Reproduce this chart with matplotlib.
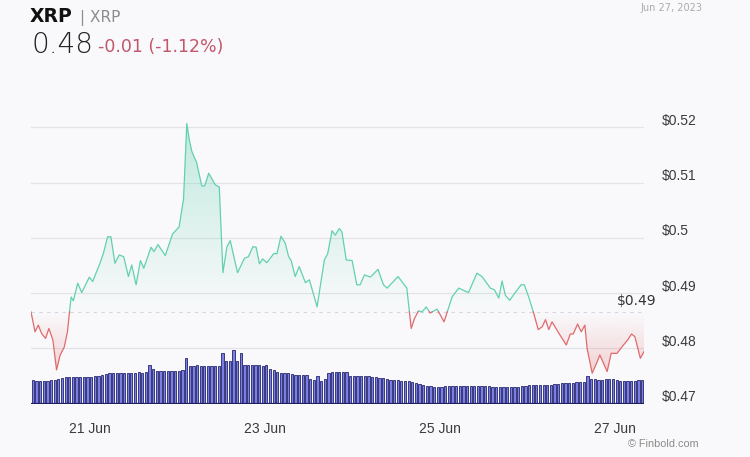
import numpy as np
import matplotlib.pyplot as plt
from matplotlib.path import Path
from matplotlib import transforms


######################################################################
# Data
######################################################################

# hours since 20 Jun 08:00
hours = [
    0, 1.1, 2.0, 2.9, 4.0, 4.9, 6.0, 7.0, 8.0, 9.1,
    10.0, 10.5, 11.0, 11.6, 12.8, 13.9, 16.0, 16.9, 18.9, 19.8,
    21.0, 21.9, 23.0, 24.2, 25.4, 26.7, 27.6, 28.8, 30.0, 30.9,
    32.9, 33.7, 34.8, 36.8, 38.8, 40.6,
    41.8, 42.7, 43.4, 44.1, 45.4, 46.8, 47.6, 48.7, 50.5, 51.6,
    52.6, 53.7, 54.6, 56.6, 58.5, 59.6, 60.8, 61.7, 62.6, 63.5,
    64.6, 66.6, 67.4, 68.5, 69.7, 70.6, 71.3, 72.4, 73.5, 75.2,
    76.3, 78.4, 80.4, 81.3, 82.5, 83.4,
    84.5, 85.2, 86.4, 88.0, 89.3, 90.2, 91.4, 93.0, 95.1, 96.6,
    97.6, 100.6, 103.0, 104.2, 105.1, 106.2, 107.2, 108.3, 109.4, 111.3,
    113.2, 115.4, 117.2, 119.9, 122.2, 123.6, 125.9,
    127.0, 128.2, 129.1, 130.0, 131.2, 132.7, 134.3, 135.2, 136.4, 137.8,
    139.0, 140.1, 141.0, 141.9, 142.8, 144.6, 146.7, 147.8, 148.6, 149.8,
    150.8, 151.8, 152.4, 153.8, 155.0, 155.9, 157.9, 159.0, 160.6, 162.0,
    163.5, 164.6, 165.5, 167.0, 168.0
]

price = [
    0.4866, 0.4830, 0.4842, 0.4827, 0.4818, 0.4836, 0.4815, 0.4761, 0.4788, 0.4802,
    0.4830, 0.4863, 0.4893, 0.4886, 0.4918, 0.4901, 0.4929, 0.4921, 0.4954, 0.4971,
    0.5002, 0.5002, 0.4954, 0.4969, 0.4966, 0.4930, 0.4951, 0.4915, 0.4959, 0.4945,
    0.4983, 0.4975, 0.4988, 0.4968, 0.5007, 0.5020,
    0.5070, 0.5207, 0.5177, 0.5156, 0.5136, 0.5094, 0.5094, 0.5117, 0.5096, 0.5092,
    0.4937, 0.4984, 0.4995, 0.4937, 0.4963, 0.4966, 0.4984, 0.4983, 0.4953, 0.4962,
    0.4955, 0.4972, 0.4971, 0.5003, 0.4990, 0.4966, 0.4959, 0.4930, 0.4948, 0.4919,
    0.4924, 0.4875, 0.4960, 0.4971, 0.5013, 0.5005,
    0.5017, 0.5011, 0.4960, 0.4959, 0.4915, 0.4915, 0.4933, 0.4929, 0.4943, 0.4915,
    0.4909, 0.4930, 0.4909, 0.4836, 0.4854, 0.4868, 0.4866, 0.4875, 0.4864, 0.4871,
    0.4848, 0.4893, 0.4909, 0.4901, 0.4936, 0.4930, 0.4909,
    0.4906, 0.4891, 0.4922, 0.4896, 0.4887, 0.4901, 0.4915, 0.4915, 0.4893, 0.4863,
    0.4834, 0.4839, 0.4852, 0.4834, 0.4848, 0.4828, 0.4806, 0.4826, 0.4826, 0.4844,
    0.4830, 0.4842, 0.4800, 0.4755, 0.4773, 0.4788, 0.4758, 0.4791, 0.4791, 0.4803,
    0.4815, 0.4826, 0.4821, 0.4782, 0.4794
]

# hourly volume (relative units)
volume = [
    23.5, 23, 22.5, 22.5, 23, 23.5, 23.5,
    24.5, 26, 26.5, 27, 27, 26.5,
    27, 27, 27, 27, 27.5, 28, 29,
    29.5, 30.5, 31, 31, 31, 31, 31, 31, 31, 31.5, 31, 31.5,
    39, 35,
    33, 33, 33, 33, 33, 33, 33, 33.5,
    46,
    38, 38, 38.5, 38, 38, 38, 38, 38, 38,
    51, 42.5, 43, 54, 43, 51,
    39, 38.5, 38.5, 38.5, 38.5, 38,
    38.5, 35, 34,
    31.5, 31, 31, 30.5,
    29.5, 29, 29, 29, 29,
    24.5, 23.5, 28, 23, 25,
    31, 31.5, 31.5, 32, 32, 32,
    27.5, 27.5, 27.5, 27.5, 27.5, 27.5,
    27, 26.5, 26, 25.5,
    24.5, 24, 24, 24,
    22.5, 22.5, 22.5, 22,
    20.5, 20, 19,
    17.5, 17.5, 17, 17, 17, 17.5, 17.5, 17.5, 17.5, 17.5,
    18, 17.5, 17.5, 17.5, 17.5, 17.5, 17.5, 17.5,
    17, 17, 17, 16.5, 16.5, 17, 17, 17, 17.5, 17.5,
    18.5, 18.5, 18.5, 18.5, 18.5, 19, 19, 19.5,
    20, 20.5, 20.5, 21, 21, 21.5, 21.5, 22,
    28,
    24.5, 24.5, 24, 24, 24.5, 24.5,
    25,
    23.5, 23, 23, 23, 23, 23, 23.5, 23.5
]

ytick_values = [0.47, 0.48, 0.49, 0.50, 0.51, 0.52]
ytick_labels = ['$0.47', '$0.48', '$0.49', '$0.5', '$0.51', '$0.52']
xtick_hours = [16, 64, 112, 160]
xtick_labels = ['21 Jun', '23 Jun', '25 Jun', '27 Jun']


######################################################################
# Style
######################################################################

bg = '#f9f9fb'
green = '#62d0b0'
red = '#e06a6c'
axis_font = 'Liberation Sans'

open_price = price[0]


######################################################################
# Figure
######################################################################

fig = plt.figure(figsize=(7.5, 4.57), dpi=100, facecolor=bg)
ax = fig.add_axes([31 / 750, 53.4 / 457, 613 / 750, 290.6 / 457])
ax.set_facecolor(bg)

# split the line where it crosses the opening price
t = np.array(hours)
p = np.array(price)
tt = [t[0]]
pp = [p[0]]
for k in range(1, len(t)):
    a = p[k - 1] - open_price
    b = p[k] - open_price
    if a * b < 0:
        f = a / (a - b)
        tt.append(t[k - 1] + f * (t[k] - t[k - 1]))
        pp.append(open_price)
    tt.append(t[k])
    pp.append(p[k])
tt = np.array(tt)
pp = np.array(pp)

# gradient fills, clipped to the area between line and opening price
ymax = 0.5226


def gradient(color, a_bottom, a_top):
    rgba = np.zeros((256, 1, 4))
    rgba[:, 0, :3] = plt.matplotlib.colors.to_rgb(color)
    rgba[:, 0, 3] = np.linspace(a_bottom, a_top, 256)
    return rgba


up = ax.fill_between(tt, pp, open_price, where=pp >= open_price,
                     facecolor='none', linewidth=0)
im_up = ax.imshow(gradient(green, 0.0, 0.4), origin='lower', aspect='auto',
                  extent=[0, 168, open_price, ymax], zorder=1)
im_up.set_clip_path(Path.make_compound_path(*up.get_paths()),
                    transform=ax.transData)

# red area fades in away from the opening price
down = ax.fill_between(tt, pp, open_price, where=pp <= open_price,
                       facecolor='none', linewidth=0)
im_down = ax.imshow(gradient(red, 0.42, 0.0), origin='lower', aspect='auto',
                    extent=[0, 168, 0.47, open_price], zorder=1)
im_down.set_clip_path(Path.make_compound_path(*down.get_paths()),
                      transform=ax.transData)

# price line
ax.plot(tt, np.where(pp >= open_price, pp, np.nan), color=green, lw=0.9, zorder=3)
ax.plot(tt, np.where(pp <= open_price, pp, np.nan), color=red, lw=0.9, zorder=3)

# opening price reference
ax.axhline(open_price, color='#d6d6de', lw=0.8, ls=(0, (3, 4)), zorder=2)
ax.annotate(
    f'${open_price:.2f}',
    xy=(160.6, open_price),
    xytext=(0, 3),
    textcoords='offset points',
    ha='left',
    va='bottom',
    fontsize=10,
    color='#333333',
    zorder=4
)

# grid
for v in ytick_values[1:]:
    ax.axhline(v, color='#e3e3e9', lw=0.9, zorder=0)

ax.set_xlim(0, 168)
ax.set_ylim(0.47, ymax)

# volume bars on a twin axis
ax2 = ax.twinx()
ax2.bar(
    np.arange(len(volume)) + 0.5,
    volume,
    width=0.62,
    facecolor='#7c80e4',
    edgecolor='#24246c',
    linewidth=0.6,
    zorder=2
)
ax2.axhline(0, color='#1f1f5e', lw=1.6)
ax2.set_ylim(0, 290.6)
ax2.set_xlim(0, 168)
ax2.axis('off')

# ticks (after twinx, which moves the y ticks back to the left)
ax.set_yticks(ytick_values)
ax.set_yticklabels(ytick_labels, fontfamily=axis_font, fontsize=10, color='#3a3a3a')
ax.yaxis.tick_right()
ax.tick_params(axis='y', length=0, pad=13, labelleft=False, labelright=True)
shift_up = transforms.ScaledTranslation(0, 8 / 100, fig.dpi_scale_trans)
for label in ax.get_yticklabels():
    label.set_transform(label.get_transform() + shift_up)

ax.set_xticks(xtick_hours)
ax.set_xticklabels(xtick_labels, fontfamily=axis_font, fontsize=10, color='#3a3a3a')
ax.tick_params(axis='x', length=0, pad=13)

for side in ['top', 'right', 'left', 'bottom']:
    ax.spines[side].set_visible(False)

# header
fig.text(30 / 750, 1 - 21.7 / 457, 'XRP', fontsize=13.5, fontweight='bold',
         color='#111111', va='baseline')
fig.text(80 / 750, 1 - 21.7 / 457, '| XRP', fontsize=11, color='#8c8c8c',
         va='baseline')
fig.text(31 / 750, 1 - 53 / 457, '0.48', fontsize=20, color='#222222',
         fontweight='light', va='baseline')
fig.text(98 / 750, 1 - 52 / 457, '-0.01 (-1.12%)', fontsize=12.5,
         color='#c2566b', va='baseline')
fig.text(640 / 750, 1 - 8 / 457, 'Jun 27, 2023', fontsize=7, color='#ababab',
         va='center')
fig.text(628 / 750, 1 - 444 / 457, '\u00a9 Finbold.com', fontsize=7.8,
         fontfamily=axis_font, color='#8a8a8a', va='center')

fig.savefig('out.png', dpi=100, facecolor=bg)
